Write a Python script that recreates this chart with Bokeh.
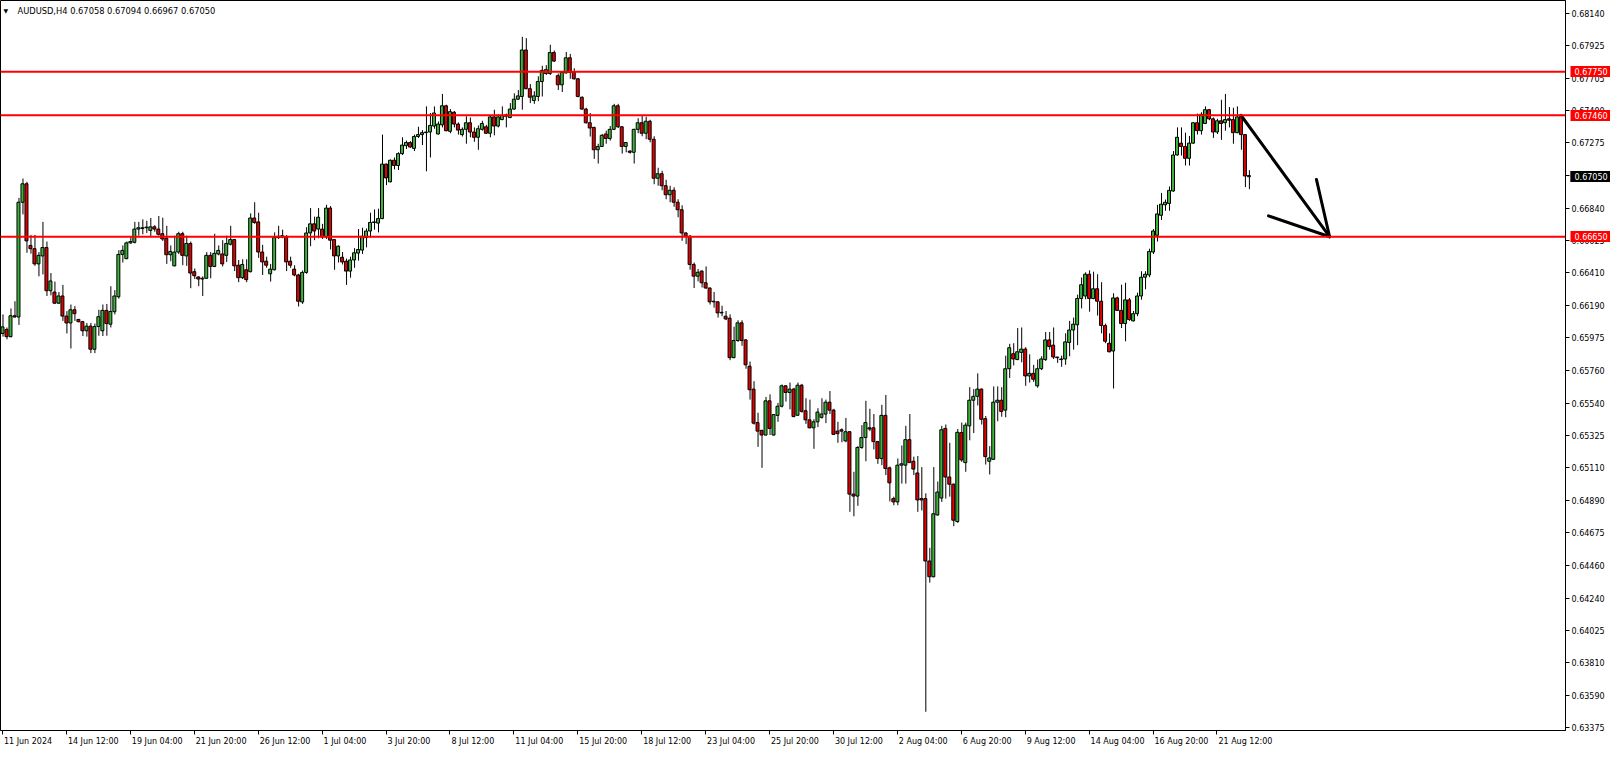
from bokeh.plotting import figure
from bokeh.models import Range1d, FixedTicker, Span, Label, LinearAxis, ColumnDataSource, PrintfTickFormatter
from bokeh.embed import file_html
from bokeh.resources import INLINE

POINT = 1e-5  # prices below are in points (1e-5)

opens_pts = [
    66005, 66032, 65984, 66123, 66115, 66880, 67003, 66592, 66570, 66469,
    66522, 66578, 66290, 66281, 66207, 66255, 66121, 66075, 66163, 66099,
    66084, 66023, 66054, 65900, 66051, 66023, 66159, 66067, 66150, 66250,
    66532, 66504, 66609, 66613, 66701, 66705, 66710, 66692, 66716, 66701,
    66670, 66640, 66530, 66456, 66548, 66670, 66522, 66605, 66417, 66382,
    66368, 66373, 66526, 66452, 66535, 66535, 66526, 66600, 66631, 66460,
    66377, 66430, 66417, 66775, 66749, 66548, 66487, 66403, 66430, 66653,
    66648, 66648, 66487, 66434, 66395, 66215, 66412, 66675, 66736, 66701,
    66701, 66648, 66841, 66631, 66522, 66513, 66487, 66421, 66495, 66541,
    66561, 66644, 66688, 66745, 66741, 66771, 67134, 67016, 67160, 67125,
    67204, 67257, 67278, 67239, 67318, 67331, 67344, 67348, 67388, 67335,
    67396, 67523, 67353, 67480, 67401, 67331, 67366, 67410, 67348, 67313,
    67366, 67383, 67340, 67449, 67388, 67431, 67453, 67445, 67501, 67567,
    67585, 67895, 67637, 67558, 67585, 67685, 67738, 67738, 67878, 67724,
    67663, 67742, 67843, 67751, 67703, 67580, 67501, 67410, 67379, 67230,
    67252, 67335, 67305, 67366, 67523, 67383, 67252, 67221, 67213, 67366,
    67410, 67340, 67420, 67300, 67040, 67070, 66990, 66930, 66960, 66880,
    66830, 66675, 66653, 66465, 66387, 66421, 66343, 66308, 66220, 66216,
    66146, 66120, 66107, 65844, 65958, 66076, 65962, 65787, 65634, 65411,
    65359, 65328, 65556, 65328, 65459, 65520, 65656, 65612, 65634, 65460,
    65660, 65490, 65429, 65376, 65416, 65446, 65468, 65547, 65494, 65354,
    65363, 65289, 65350, 64934, 64921, 65245, 65311, 65376, 65376, 65284,
    65171, 65459, 65109, 64904, 64882, 65127, 65127, 65297, 65153, 65075,
    64904, 64904, 64488, 64383, 64795, 64908, 65372, 65048, 65000, 64751,
    65345, 65144, 65389, 65560, 65586, 65634, 65437, 65153, 65166, 65547,
    65560, 65494, 65770, 65870, 65831, 65879, 65901, 65722, 65739, 65656,
    65770, 65831, 65962, 65927, 65848, 65835, 65835, 65945, 66028, 66063,
    66238, 66255, 66400, 66238, 66303, 66220, 66058, 65940, 65888, 66242,
    66159, 66071, 66229, 66089, 66137, 66255, 66380, 66395, 66548, 66660,
    66793, 66863, 66872, 66955, 67195, 67274, 67252, 67173, 67274, 67410,
    67357, 67405, 67497, 67436, 67348, 67423, 67410, 67436, 67431, 67344,
    67453, 67331, 67058,
]
highs_pts = [
    66132, 66045, 66172, 66220, 66909, 67038, 67016, 66662, 66662, 66548,
    66749, 66618, 66408, 66351, 66281, 66329, 66154, 66198, 66187, 66099,
    66089, 66075, 66075, 66071, 66163, 66198, 66202, 66320, 66294, 66561,
    66592, 66618, 66646, 66749, 66749, 66766, 66756, 66775, 66727, 66788,
    66777, 66723, 66592, 66657, 66683, 66683, 66657, 66618, 66438, 66386,
    66386, 66548, 66548, 66670, 66592, 66627, 66657, 66723, 66635, 66495,
    66500, 66500, 66806, 66880, 66810, 66596, 66517, 66469, 66679, 66723,
    66697, 66662, 66517, 66460, 66403, 66425, 66714, 66841, 66784, 66841,
    66736, 66863, 66854, 66635, 66592, 66548, 66504, 66517, 66574, 66701,
    66710, 66705, 66810, 66832, 66837, 67331, 67138, 67165, 67178, 67213,
    67313, 67291, 67287, 67331, 67383, 67361, 67519, 67475, 67519, 67418,
    67602, 67530, 67501, 67488, 67412, 67379, 67453, 67445, 67379, 67392,
    67423, 67396, 67458, 67497, 67466, 67519, 67471, 67541, 67606, 67628,
    67983, 67974, 67668, 67620, 67720, 67790, 67794, 67930, 67891, 67738,
    67755, 67882, 67869, 67773, 67707, 67585, 67510, 67475, 67383, 67270,
    67335, 67357, 67388, 67536, 67536, 67388, 67278, 67226, 67370, 67440,
    67460, 67450, 67430, 67320, 67110, 67090, 67030, 66990, 66980, 66900,
    66860, 66680, 66662, 66478, 66435, 66426, 66452, 66312, 66282, 66220,
    66190, 66155, 66133, 66050, 66093, 66093, 65967, 65818, 65687, 65477,
    65363, 65582, 65599, 65464, 65542, 65665, 65660, 65678, 65643, 65678,
    65669, 65573, 65564, 65433, 65507, 65573, 65564, 65621, 65503, 65416,
    65372, 65442, 65354, 65083, 65254, 65394, 65556, 65503, 65468, 65289,
    65529, 65595, 65118, 64917, 65171, 65258, 65389, 65468, 65184, 65188,
    65114, 64939, 64576, 65114, 65018, 65389, 65398, 65276, 65005, 65368,
    65411, 65411, 65647, 65634, 65739, 65638, 65455, 65254, 65652, 65652,
    65647, 65857, 65936, 65940, 66041, 66045, 65914, 65866, 65796, 65831,
    65853, 66015, 66015, 66045, 65848, 65857, 66006, 66089, 66111, 66264,
    66378, 66413, 66426, 66417, 66400, 66347, 66071, 66006, 66273, 66250,
    66330, 66343, 66242, 66155, 66277, 66420, 66420, 66570, 66701, 66863,
    66942, 66898, 66985, 67221, 67379, 67379, 67344, 67322, 67414, 67471,
    67480, 67519, 67501, 67445, 67436, 67563, 67602, 67515, 67510, 67519,
    67458, 67335, 67094,
]
lows_pts = [
    65984, 65966, 65979, 66110, 66062, 66799, 66543, 66537, 66456, 66386,
    66399, 66255, 66259, 66202, 66202, 66089, 66005, 65905, 66089, 66078,
    65988, 65984, 65874, 65874, 65990, 65988, 65990, 66045, 66132, 66237,
    66478, 66500, 66602, 66605, 66657, 66666, 66675, 66653, 66683, 66657,
    66622, 66469, 66487, 66452, 66535, 66460, 66456, 66307, 66368, 66320,
    66255, 66368, 66373, 66447, 66526, 66452, 66482, 66592, 66421, 66347,
    66368, 66347, 66412, 66736, 66509, 66395, 66443, 66351, 66425, 66635,
    66640, 66421, 66443, 66386, 66185, 66202, 66403, 66587, 66627, 66640,
    66635, 66635, 66565, 66430, 66478, 66465, 66329, 66377, 66443, 66491,
    66535, 66579, 66644, 66697, 66679, 66767, 66994, 67013, 67099, 67095,
    67195, 67235, 67243, 67221, 67309, 67261, 67086, 67178, 67370, 67331,
    67379, 67353, 67340, 67379, 67331, 67318, 67270, 67313, 67283, 67230,
    67357, 67335, 67313, 67326, 67379, 67427, 67379, 67440, 67497, 67563,
    67497, 67633, 67541, 67536, 67554, 67585, 67729, 67729, 67816, 67628,
    67615, 67738, 67703, 67698, 67580, 67497, 67405, 67318, 67169, 67138,
    67248, 67270, 67291, 67361, 67375, 67204, 67213, 67204, 67138, 67340,
    67320, 67300, 67280, 67000, 66990, 66960, 66900, 66880, 66850, 66780,
    66623, 66601, 66430, 66308, 66352, 66312, 66303, 66198, 66177, 66111,
    66120, 66094, 65827, 65840, 65949, 65923, 65770, 65564, 65398, 65249,
    65109, 65324, 65328, 65324, 65416, 65512, 65551, 65499, 65446, 65455,
    65477, 65402, 65372, 65236, 65381, 65437, 65407, 65468, 65332, 65276,
    65280, 65280, 64816, 64786, 64856, 65236, 65153, 65354, 65232, 65136,
    65127, 65061, 64886, 64860, 64860, 65004, 65004, 65144, 65061, 64816,
    64825, 63483, 64344, 64379, 64790, 64882, 64904, 64917, 64720, 64742,
    65149, 65083, 65293, 65341, 65525, 65398, 65131, 65065, 65162, 65420,
    65450, 65446, 65708, 65792, 65827, 65813, 65656, 65678, 65682, 65643,
    65761, 65822, 65897, 65835, 65809, 65783, 65796, 65853, 65897, 65927,
    66172, 66233, 66150, 66233, 66124, 66006, 65940, 65879, 65638, 66155,
    66041, 65953, 66089, 66085, 66120, 66230, 66300, 66380, 66535, 66618,
    66762, 66823, 66823, 66950, 67191, 67191, 67125, 67125, 67270, 67331,
    67331, 67401, 67427, 67309, 67335, 67296, 67357, 67379, 67270, 67340,
    67230, 66981, 66967,
]
closes_pts = [
    66049, 65984, 66123, 66115, 66880, 67003, 66622, 66570, 66469, 66526,
    66578, 66290, 66355, 66207, 66255, 66121, 66075, 66163, 66137, 66084,
    66023, 66054, 65900, 66051, 66117, 66159, 66071, 66152, 66255, 66532,
    66559, 66609, 66618, 66701, 66710, 66710, 66714, 66716, 66701, 66666,
    66635, 66530, 66552, 66548, 66670, 66526, 66605, 66408, 66390, 66368,
    66373, 66526, 66452, 66539, 66559, 66469, 66605, 66631, 66456, 66377,
    66465, 66364, 66775, 66745, 66548, 66482, 66460, 66434, 66644, 66644,
    66657, 66482, 66460, 66395, 66220, 66412, 66675, 66736, 66688, 66780,
    66648, 66841, 66627, 66522, 66587, 66482, 66421, 66495, 66543, 66565,
    66653, 66688, 66745, 66749, 66771, 67134, 67042, 67160, 67125, 67204,
    67261, 67278, 67248, 67318, 67331, 67344, 67348, 67392, 67475, 67401,
    67523, 67357, 67484, 67401, 67361, 67366, 67410, 67348, 67313, 67370,
    67405, 67340, 67449, 67388, 67449, 67458, 67462, 67501, 67567, 67589,
    67895, 67637, 67580, 67589, 67685, 67759, 67764, 67878, 67821, 67663,
    67746, 67843, 67746, 67703, 67585, 67501, 67410, 67375, 67230, 67252,
    67326, 67305, 67366, 67523, 67383, 67252, 67278, 67213, 67366, 67410,
    67340, 67420, 67300, 67040, 67070, 66990, 66930, 66960, 66880, 66830,
    66675, 66653, 66465, 66387, 66413, 66343, 66308, 66216, 66216, 66142,
    66142, 66102, 65844, 65958, 66076, 65958, 65796, 65630, 65407, 65354,
    65328, 65556, 65372, 65464, 65520, 65656, 65612, 65634, 65451, 65660,
    65486, 65429, 65376, 65416, 65481, 65468, 65547, 65494, 65332, 65337,
    65354, 65350, 64934, 64921, 65245, 65311, 65411, 65368, 65284, 65171,
    65459, 65105, 65009, 64882, 65127, 65136, 65297, 65144, 65101, 64895,
    64895, 64488, 64383, 64803, 64948, 65363, 65048, 65000, 64760, 65346,
    65162, 65394, 65560, 65586, 65634, 65433, 65184, 65175, 65547, 65560,
    65485, 65770, 65910, 65835, 65883, 65901, 65722, 65739, 65700, 65770,
    65835, 65962, 65918, 65848, 65844, 65831, 65949, 66028, 66067, 66238,
    66330, 66400, 66238, 66303, 66220, 66058, 65953, 65883, 66242, 66159,
    66071, 66229, 66098, 66137, 66255, 66380, 66400, 66552, 66688, 66802,
    66867, 66880, 66959, 67195, 67313, 67252, 67173, 67274, 67410, 67357,
    67466, 67497, 67436, 67348, 67423, 67405, 67431, 67427, 67344, 67449,
    67331, 67055, 67050,
]

header_text = "AUDUSD,H4  0.67058 0.67094 0.66967 0.67050"
date_labels = [
    "11 Jun 2024", "14 Jun 12:00", "19 Jun 04:00", "21 Jun 20:00", "26 Jun 12:00",
    "1 Jul 04:00", "3 Jul 20:00", "8 Jul 12:00", "11 Jul 04:00", "15 Jul 20:00",
    "18 Jul 12:00", "23 Jul 04:00", "25 Jul 20:00", "30 Jul 12:00", "2 Aug 04:00",
    "6 Aug 20:00", "9 Aug 12:00", "14 Aug 04:00", "16 Aug 20:00", "21 Aug 12:00",
]
bars_per_date_label = 16
price_ticks = [
    0.68140, 0.67925, 0.67705, 0.67490, 0.67275, 0.67060, 0.66840, 0.66625,
    0.66410, 0.66190, 0.65975, 0.65760, 0.65540, 0.65325, 0.65110, 0.64890,
    0.64675, 0.64460, 0.64240, 0.64025, 0.63810, 0.63590, 0.63375,
]
level_prices = [0.67750, 0.67460, 0.66650]
current_price = 0.67050
arrow_from_bar = [310.0, 328.9, 316.9]
arrow_from_price = [0.67460, 0.67032, 0.66789]
arrow_to_bar = 332.2
arrow_to_price = 0.66650

FONT = "DejaVu Sans"
FONT_PX = 8
BULL = "#3cb43c"
BEAR = "#e00000"
LEVEL = "#ff0000"

n = len(closes_pts)
idx = list(range(n))
o = [v * POINT for v in opens_pts]
h = [v * POINT for v in highs_pts]
l = [v * POINT for v in lows_pts]
c = [v * POINT for v in closes_pts]
top = [max(a, b) for a, b in zip(o, c)]
bot = [min(a, b) for a, b in zip(o, c)]
col = [BULL if cc >= oo else BEAR for oo, cc in zip(o, c)]

BAR_PX = 4.0
FRAME_W = 1567
X0 = -0.5
X1 = X0 + FRAME_W / BAR_PX
Y0, Y1 = 0.63358, 0.68225

p = figure(width=1610, height=748, output_backend="svg", toolbar_location=None,
           x_range=Range1d(X0, X1), y_range=Range1d(Y0, Y1),
           y_axis_location="right", min_border_left=0, min_border_top=0,
           min_border_bottom=18, min_border_right=1610 - FRAME_W)
p.grid.visible = False
p.background_fill_color = "white"
p.border_fill_color = "white"
p.outline_line_color = "black"
p.outline_line_width = 1

# wick drawn half a pixel right so that the 1px line is crisp
wick_shift = 0.5 / BAR_PX
src = ColumnDataSource(dict(x=idx, xw=[i + wick_shift for i in idx], h=h, l=l,
                            top=top, bot=bot, col=col))
p.segment(x0="xw", y0="l", x1="xw", y1="h", source=src, line_color="black", line_width=1)
p.vbar(x="x", width=0.75, top="top", bottom="bot", source=src,
       fill_color="col", line_color="black", line_width=1)

for lp in level_prices:
    p.add_layout(Span(location=lp, dimension="width", line_color=LEVEL, line_width=2))

p.segment(x0=arrow_from_bar, y0=arrow_from_price,
          x1=[arrow_to_bar] * 3, y1=[arrow_to_price] * 3,
          line_color="black", line_width=3, line_cap="round")

# ---- right price scale
ya = p.yaxis[0]
ya.ticker = FixedTicker(ticks=price_ticks)
ya.formatter = PrintfTickFormatter(format="%.5f")
ya.major_tick_out = 4
ya.major_tick_in = 0
ya.minor_tick_out = 0
ya.minor_tick_in = 0
ya.major_label_standoff = 2
ya.major_label_text_font = FONT
ya.major_label_text_font_size = f"{FONT_PX}px"
ya.major_label_text_color = "black"
ya.axis_line_color = "black"

# price tags (levels in red, current price in black) drawn as a second scale
tag_axis = LinearAxis(
    ticker=FixedTicker(ticks=level_prices + [current_price], minor_ticks=[current_price]),
    formatter=PrintfTickFormatter(format="%.5f"),
    axis_line_color=None,
    major_tick_in=37, major_tick_out=4, major_tick_line_color=LEVEL, major_tick_line_width=11,
    minor_tick_in=37, minor_tick_out=4, minor_tick_line_color="black", minor_tick_line_width=11,
    major_label_standoff=-37, major_label_text_color="white",
    major_label_text_font=FONT, major_label_text_font_size=f"{FONT_PX}px",
)
p.add_layout(tag_axis, "right")

# ---- time scale: tick marks as minor ticks, left-aligned labels as major ticks
CHAR_EM = {d: 0.636 for d in "0123456789"}
CHAR_EM.update({" ": 0.318, ":": 0.337, "J": 0.295, "u": 0.634, "n": 0.634,
                "l": 0.278, "A": 0.684, "g": 0.635})


def text_px(s):
    return sum(CHAR_EM.get(ch, 0.6) for ch in s) * FONT_PX


date_ticks = [i * bars_per_date_label for i in range(len(date_labels))]
label_pos = [t + (text_px(s) / 2 + 1.5) / BAR_PX for t, s in zip(date_ticks, date_labels)]
xa = p.xaxis[0]
xa.ticker = FixedTicker(ticks=label_pos, minor_ticks=date_ticks)
xa.major_label_overrides = {pos: s for pos, s in zip(label_pos, date_labels)}
xa.major_tick_out = 0
xa.major_tick_in = 0
xa.minor_tick_out = 4
xa.minor_tick_in = 0
xa.minor_tick_line_color = "black"
xa.major_label_standoff = 2
xa.major_label_text_font = FONT
xa.major_label_text_font_size = f"{FONT_PX}px"
xa.major_label_text_color = "black"
xa.axis_line_color = "black"

# header
p.add_layout(Label(x=X0, y=Y1, x_offset=3, y_offset=-10, text="\u25bc", text_align="left",
                   text_baseline="middle", text_color="black", text_font=FONT,
                   text_font_size="6px"))
p.add_layout(Label(x=X0, y=Y1, x_offset=17, y_offset=-10, text=header_text, text_align="left",
                   text_baseline="middle", text_color="black", text_font=FONT,
                   text_font_size="8.3px"))

open("out.html", "w").write(file_html(p, INLINE))
